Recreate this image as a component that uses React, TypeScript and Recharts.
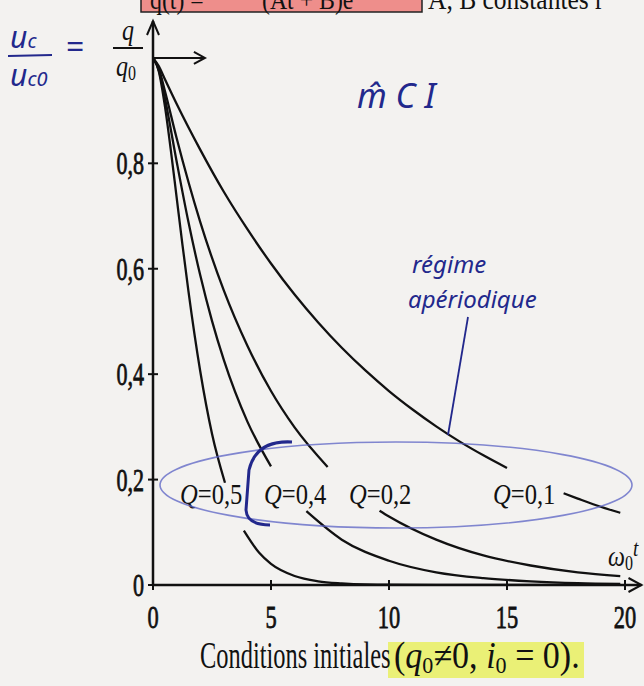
import { LineChart, Line, XAxis, YAxis, ReferenceDot, ReferenceLine } from 'recharts';

// Q = 0,5 (critique)
const q05Time = [0, 0.25, 0.5, 0.75, 1, 1.25, 1.5, 2, 2.5, 3.05, 3.45, 3.85, 4.5, 5, 6, 7, 8, 9, 10, 12, 15, 19.8];
const q05Value = [1, 0.974, 0.91, 0.827, 0.736, 0.645, 0.558, 0.406, 0.287, 0.194, null, 0.103, 0.061, 0.04, 0.017, 0.007, 0.003, 0.001, 0.0005, 0, 0, 0];

// Q = 0,4
const q04Time = [0, 0.25, 0.5, 1, 1.5, 2, 2.5, 3, 4, 5, 5.75, 6.5, 8, 10, 12, 14, 16, 18, 19.8];
const q04Value = [1, 0.976, 0.925, 0.804, 0.689, 0.588, 0.501, 0.427, 0.31, 0.225, null, 0.14, 0.086, 0.046, 0.024, 0.013, 0.007, 0.0035, 0.002];

// Q = 0,2
const q02Time = [0, 0.25, 0.5, 1, 2, 3, 4, 5, 6, 7.4, 8.5, 9.6, 10, 12, 14, 16, 18, 19.8];
const q02Value = [1, 0.979, 0.938, 0.848, 0.689, 0.559, 0.454, 0.368, 0.299, 0.224, null, 0.141, 0.13, 0.086, 0.056, 0.037, 0.024, 0.017];

// Q = 0,1
const q01Time = [0, 0.25, 0.5, 1, 2, 3, 4, 5, 6, 7, 8, 9, 10, 11, 12, 13, 14, 15, 16.2, 17.4, 18, 19, 19.8];
const q01Value = [1, 0.984, 0.96, 0.913, 0.826, 0.746, 0.675, 0.61, 0.551, 0.498, 0.45, 0.407, 0.368, 0.333, 0.301, 0.272, 0.246, 0.222, null, 0.174, 0.164, 0.148, 0.137];

const xTicks = [0, 5, 10, 15, 20];
const yTicks = [0, 0.2, 0.4, 0.6, 0.8];
const curveLabels = ['Q=0,5', 'Q=0,4', 'Q=0,2', 'Q=0,1'];
const labelX = [180, 264, 349, 493];

const toPoints = (times: number[], values: (number | null)[]) =>
  times.map((t, i) => ({ t, v: values[i] }));

const series = [
  toPoints(q05Time, q05Value),
  toPoints(q04Time, q04Value),
  toPoints(q02Time, q02Value),
  toPoints(q01Time, q01Value),
];

const ink = '#111';
const pen = '#22288c';
const serif = 'Liberation Serif, Times New Roman, serif';
const hand = 'Noto Sans, DejaVu Sans, sans-serif';

const X_MAX = 20.7;
const Y_MAX = 1.07;

function XTick({ x, y, payload }: any) {
  return (
    <g>
      <line x1={x} x2={x} y1={y - 5} y2={y + 5} stroke={ink} strokeWidth={2} />
      <text
        transform={`translate(${x},${y + 43}) scale(0.7,1)`}
        textAnchor="middle"
        fontSize={32}
        fontFamily={serif}
        fill={ink}
        stroke={ink}
        strokeWidth={0.8}
      >
        {payload.value}
      </text>
    </g>
  );
}

function YTick({ x, y, payload }: any) {
  const label = String(payload.value).replace('.', ',');
  return (
    <g>
      <line x1={x - 5} x2={x + 5} y1={y} y2={y} stroke={ink} strokeWidth={2} />
      <text
        transform={`translate(${x - 9},${y + 11}) scale(0.69,1)`}
        textAnchor="end"
        fontSize={32}
        fontFamily={serif}
        fill={ink}
        stroke={ink}
        strokeWidth={0.8}
      >
        {label}
      </text>
    </g>
  );
}

export default function App() {
  return (
    <div style={{ position: 'absolute', left: 0, top: 0, width: 644, height: 686, background: '#f3f2f0', overflow: 'hidden' }}>
      <svg width={644} height={686} style={{ position: 'absolute', left: 0, top: 0 }}>
        {/* bord de la page au-dessus */}
        <rect x={141} y={-24} width={281} height={36} fill="#ee8e8b" stroke="#222" strokeWidth={1.5} />
        <text transform="translate(150,9) scale(0.85,1)" fontSize={28} fontFamily={serif} fill={ink}>q(t) =</text>
        <text transform="translate(262,9) scale(0.85,1)" fontSize={28} fontFamily={serif} fill={ink}>(At + B)e</text>
        <text transform="translate(428,9) scale(0.85,1)" fontSize={30} fontFamily={serif} fill={ink}>A, B constantes r</text>
        {/* surlignage */}
        <rect x={388} y={642} width={196} height={36} fill="#e8f060" opacity={0.85} />
      </svg>

      <LineChart
        width={644}
        height={686}
        margin={{ top: 21, right: 2.5, bottom: 71, left: 93 }}
        style={{ position: 'absolute', left: 0, top: 0 }}
      >
        <XAxis
          type="number"
          dataKey="t"
          domain={[0, X_MAX]}
          allowDataOverflow
          ticks={xTicks}
          height={30}
          tickSize={0}
          tickMargin={0}
          tickLine={false}
          tick={<XTick />}
          axisLine={{ stroke: ink, strokeWidth: 2.5 }}
        />
        <YAxis
          type="number"
          domain={[0, Y_MAX]}
          allowDataOverflow
          ticks={yTicks}
          width={60}
          tickSize={0}
          tickMargin={0}
          tickLine={false}
          tick={<YTick />}
          axisLine={{ stroke: ink, strokeWidth: 2.5 }}
        />
        {series.map((data, i) => (
          <Line
            key={curveLabels[i]}
            data={data}
            dataKey="v"
            type="monotone"
            stroke={ink}
            strokeWidth={2.3}
            dot={false}
            isAnimationActive={false}
          />
        ))}
        <ReferenceLine segment={[{ x: 0, y: 1 }, { x: 2.2, y: 1 }]} stroke={ink} strokeWidth={2} ifOverflow="visible" />
        <ReferenceDot
          x={2.2}
          y={1}
          ifOverflow="visible"
          shape={(p: any) => (
            <path d={`M${p.cx - 11},${p.cy - 6} L${p.cx},${p.cy} L${p.cx - 11},${p.cy + 6}`} fill="none" stroke={ink} strokeWidth={2} />
          )}
        />
        <ReferenceDot
          x={X_MAX}
          y={0}
          ifOverflow="visible"
          shape={(p: any) => (
            <path d={`M${p.cx - 13},${p.cy - 7} L${p.cx},${p.cy} L${p.cx - 13},${p.cy + 7}`} fill="none" stroke={ink} strokeWidth={2} />
          )}
        />
        <ReferenceDot
          x={0}
          y={Y_MAX}
          ifOverflow="visible"
          shape={(p: any) => (
            <path d={`M${p.cx - 6},${p.cy + 14} L${p.cx},${p.cy} L${p.cx + 6},${p.cy + 14}`} fill="none" stroke={ink} strokeWidth={2} />
          )}
        />
      </LineChart>

      <svg width={644} height={686} style={{ position: 'absolute', left: 0, top: 0, pointerEvents: 'none' }}>
        {/* axe y : q/q0 */}
        <text transform="translate(128,40) scale(0.8,1)" textAnchor="middle" fontSize={30} fontFamily={serif} fontStyle="italic" fill={ink}>q</text>
        <line x1={113} x2={143} y1={48} y2={48} stroke={ink} strokeWidth={2} />
        <text transform="translate(126,76) scale(0.8,1)" textAnchor="middle" fontSize={30} fontFamily={serif} fill={ink}>
          <tspan fontStyle="italic">q</tspan>
          <tspan fontSize={20} dy={4}>0</tspan>
        </text>
        {/* axe x : ω0 t */}
        <text transform="translate(608,566) scale(0.8,1)" fontSize={30} fontFamily={serif} fill={ink}>
          <tspan fontStyle="italic">ω</tspan>
          <tspan fontSize={20} dy={4}>0</tspan>
          <tspan fontStyle="italic" fontSize={24} dy={-14}>t</tspan>
        </text>
        {/* étiquettes des courbes */}
        {curveLabels.map((s, i) => (
          <text key={s} transform={`translate(${labelX[i]},504) scale(0.82,1)`} fontSize={30} fontFamily={serif} fill={ink}>
            <tspan fontStyle="italic">Q</tspan>
            <tspan>{s.slice(1)}</tspan>
          </text>
        ))}
        {/* légende */}
        <text transform="translate(200,668) scale(0.66,1)" fontSize={37} fontFamily={serif} fill={ink}>
          Conditions initiales
        </text>
        <text transform="translate(394,668) scale(0.92,1)" fontSize={37} fontFamily={serif} fill={ink}>
          <tspan>(</tspan>
          <tspan fontStyle="italic">q</tspan>
          <tspan fontSize={24} dy={5}>0</tspan>
          <tspan dy={-5}>≠0,  </tspan>
          <tspan fontStyle="italic">i</tspan>
          <tspan fontSize={24} dy={5}>0</tspan>
          <tspan dy={-5}> = 0).</tspan>
        </text>

        {/* annotations manuscrites */}
        <text x={10} y={48} fontSize={30} fontFamily={hand} fontStyle="italic" fill={pen}>u<tspan fontSize={20}>c</tspan></text>
        <line x1={8} x2={52} y1={56} y2={55} stroke={pen} strokeWidth={2} />
        <text x={10} y={86} fontSize={30} fontFamily={hand} fontStyle="italic" fill={pen}>u<tspan fontSize={20}>c0</tspan></text>
        <text x={66} y={58} fontSize={32} fontFamily={hand} fill={pen}>=</text>
        <text x={357} y={108} fontSize={34} fontFamily={hand} fontStyle="italic" fill={pen}>m̂ C I</text>
        <text x={412} y={273} fontSize={24} fontFamily={hand} fontStyle="italic" fill={pen}>régime</text>
        <text x={408} y={308} fontSize={24} fontFamily={hand} fontStyle="italic" fill={pen}>apériodique</text>
        <path d="M468,317 L448,435" stroke={pen} strokeWidth={1.8} fill="none" />
        <ellipse cx={396} cy={485} rx={236} ry={43} fill="none" stroke="#5a62c4" strokeWidth={1.6} opacity={0.75} />
        <path d="M292,442 Q256,440 249,470 L246,510 Q247,525 270,525" stroke={pen} strokeWidth={3} fill="none" />
      </svg>
    </div>
  );
}
